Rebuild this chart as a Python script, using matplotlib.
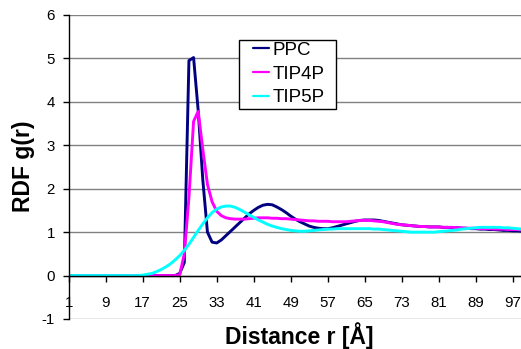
import matplotlib
matplotlib.use("Agg")
import matplotlib.pyplot as plt
from matplotlib.patches import Rectangle

plt.rcParams['font.family'] = ['Liberation Sans', 'DejaVu Sans']

# ---------------- data ----------------
categories = list(range(1, 101))
tick_positions = [1, 9, 17, 25, 33, 41, 49, 57, 65, 73, 81, 89, 97]
tick_labels = ['1', '9', '17', '25', '33', '41', '49', '57', '65', '73', '81', '89', '97']
y_ticks = [-1, 0, 1, 2, 3, 4, 5, 6]

ppc = [0, 0, 0, 0, 0, 0, 0, 0, 0, 0,
       0, 0, 0, 0, 0, 0, 0, 0, 0, 0,
       0, 0, 0, 0, 0.05, 0.3, 4.95, 5.02, 3.8, 2.2,
       1.0, 0.77, 0.75, 0.82, 0.92, 1.02, 1.12, 1.22, 1.32, 1.42,
       1.50, 1.57, 1.62, 1.64, 1.63, 1.58, 1.52, 1.45, 1.37, 1.30,
       1.24, 1.19, 1.14, 1.11, 1.09, 1.08, 1.08, 1.10, 1.13, 1.16,
       1.19, 1.22, 1.25, 1.27, 1.28, 1.28, 1.28, 1.27, 1.25, 1.23,
       1.21, 1.19, 1.17, 1.16, 1.15, 1.14, 1.13, 1.13, 1.12, 1.12,
       1.12, 1.11, 1.11, 1.10, 1.10, 1.09, 1.09, 1.08, 1.08, 1.07,
       1.07, 1.06, 1.06, 1.05, 1.04, 1.04, 1.03, 1.03, 1.02, 1.02]

tip4p = [0, 0, 0, 0, 0, 0, 0, 0, 0, 0,
         0, 0, 0, 0, 0, 0, 0, 0, 0, 0,
         0, 0, 0, 0, 0.02, 0.5, 1.8, 3.55, 3.78, 2.9,
         2.1, 1.7, 1.48, 1.38, 1.33, 1.31, 1.30, 1.30, 1.30, 1.31,
         1.32, 1.33, 1.33, 1.33, 1.32, 1.32, 1.31, 1.31, 1.30, 1.29,
         1.28, 1.27, 1.26, 1.26, 1.25, 1.25, 1.25, 1.24, 1.24, 1.24,
         1.24, 1.25, 1.26, 1.27, 1.27, 1.27, 1.26, 1.25, 1.24, 1.22,
         1.20, 1.18, 1.17, 1.16, 1.15, 1.14, 1.13, 1.13, 1.12, 1.12,
         1.12, 1.11, 1.11, 1.11, 1.10, 1.10, 1.09, 1.09, 1.09, 1.08,
         1.08, 1.08, 1.07, 1.07, 1.07, 1.06, 1.06, 1.06, 1.05, 1.05]

tip5p = [0, 0, 0, 0, 0, 0, 0, 0, 0, 0,
         0, 0, 0, 0, 0, 0, 0.01, 0.03, 0.05, 0.09,
         0.14, 0.20, 0.27, 0.36, 0.46, 0.58, 0.72, 0.88, 1.04, 1.19,
         1.33, 1.45, 1.53, 1.58, 1.60, 1.60, 1.57, 1.52, 1.46, 1.40,
         1.34, 1.28, 1.23, 1.18, 1.14, 1.11, 1.08, 1.06, 1.04, 1.03,
         1.02, 1.02, 1.03, 1.04, 1.05, 1.06, 1.07, 1.07, 1.08, 1.08,
         1.08, 1.08, 1.08, 1.08, 1.08, 1.08, 1.07, 1.07, 1.06, 1.05,
         1.04, 1.03, 1.02, 1.01, 1.00, 1.00, 1.00, 1.00, 1.00, 1.00,
         1.01, 1.02, 1.03, 1.04, 1.05, 1.07, 1.08, 1.09, 1.10, 1.11,
         1.11, 1.11, 1.11, 1.11, 1.10, 1.10, 1.09, 1.08, 1.07, 1.06]

series_names = ['PPC', 'TIP4P', 'TIP5P']
series_colors = ['#000080', '#FF00FF', '#00FFFF']

# ---------------- figure ----------------
W, H = 521, 349
fig = plt.figure(figsize=(W / 100, H / 100), dpi=100)
ax_left, ax_right, ax_top, ax_bottom = 68.7, 521, 15, 319
ax = fig.add_axes([ax_left / W, (H - ax_bottom) / H,
                   (ax_right - ax_left) / W, (ax_bottom - ax_top) / H])

lines = []
for vals, name, col in zip([ppc, tip4p, tip5p], series_names, series_colors):
    ln, = ax.plot(categories, vals, color=col, lw=2.1, label=name,
                  solid_joinstyle='round', solid_capstyle='round')
    lines.append(ln)

ax.set_xlim(1, 98.8)
ax.set_ylim(-1, 6)
ax.set_yticks(y_ticks)
ax.set_yticklabels([str(v) for v in y_ticks])
ax.set_xticks(tick_positions)
ax.set_xticklabels(tick_labels)

ax.yaxis.grid(True, color='#808080', lw=1.0)
ax.xaxis.grid(False)
ax.set_axisbelow(True)

for s in ['top', 'right']:
    ax.spines[s].set_visible(False)
ax.spines['bottom'].set_position(('data', 0))
ax.spines['bottom'].set_color('black')
ax.spines['bottom'].set_linewidth(1.0)
ax.spines['left'].set_color('black')
ax.spines['left'].set_linewidth(1.0)

ax.tick_params(axis='x', direction='out', length=4, width=1, pad=10.5,
               labelsize=10.8, colors='black')
ax.tick_params(axis='y', direction='out', length=4, width=1, pad=6,
               labelsize=10.8, colors='black')

ax.set_ylabel('RDF g(r)', fontsize=16.5, fontweight='bold')
ax.yaxis.set_label_coords(-0.075, 0.503)
ax.set_xlabel('Distance r [Å]', fontsize=16.5, fontweight='bold')
ax.xaxis.set_label_coords(0.509, -0.012)

leg = ax.legend(handles=lines, labels=series_names, loc='upper left',
                bbox_to_anchor=(251 / W, 1 - 39.5 / H), bbox_transform=fig.transFigure,
                fontsize=13.5, frameon=False, borderpad=0.12, labelspacing=0.35,
                handlelength=0.85, handletextpad=0.18, borderaxespad=0)
for hl in leg.get_lines():
    hl.set_linewidth(1.6)
leg.set_zorder(6)

fig.canvas.draw()
bb = leg.get_window_extent()
x0 = bb.x0 - 12
x1 = bb.x1 + 9
rect = Rectangle((x0 / W, bb.y0 / H), (x1 - x0) / W, bb.height / H,
                 transform=fig.transFigure, facecolor='white', edgecolor='black',
                 lw=1.0, zorder=5, clip_on=False)
ax.add_artist(rect)

fig.savefig('out.png', dpi=100)
